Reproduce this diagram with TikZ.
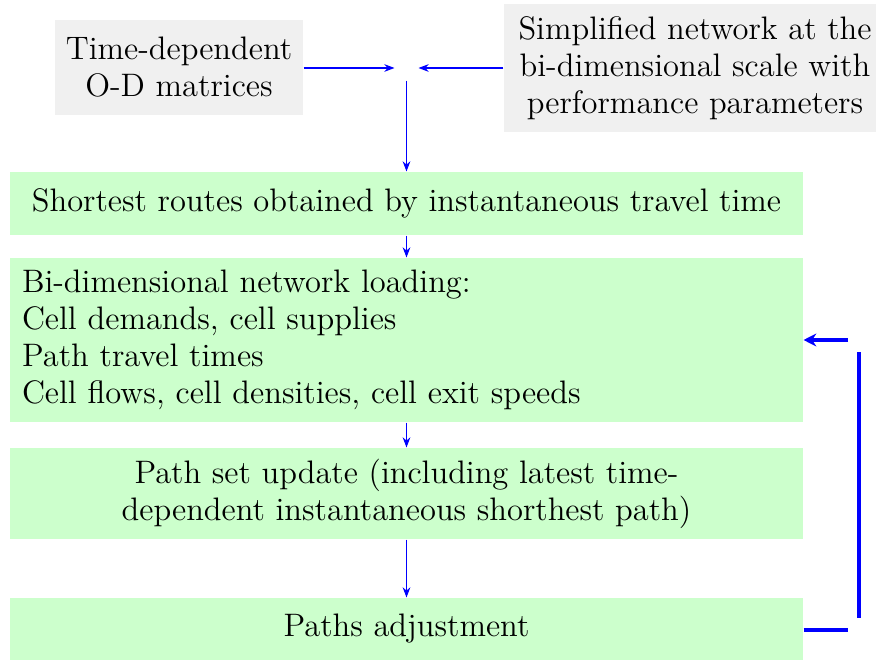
\documentclass[tikz,border=0pt]{standalone}
\usetikzlibrary{arrows.meta}
\definecolor{boxgray}{HTML}{F0F0F0}
\definecolor{boxgreen}{HTML}{CCFFCC}
\begin{document}
\begin{tikzpicture}[x=0.392pt,y=-0.392pt,
  every node/.style={font=\fontsize{12.75}{14.5}\selectfont},
  inbox/.style={fill=boxgray,inner sep=0pt,align=center},
  stepbox/.style={fill=boxgreen,inner sep=0pt,minimum width={793*0.392pt}},
  flow/.style={blue,-{Stealth[length=4pt,width=3pt]}},
  fb/.style={blue,line width=1.4pt}]
\useasboundingbox (0,0) rectangle (876,660);
\node[inbox,minimum width={248*0.392pt},minimum height={95*0.392pt}] (od) at (179,67.5) {Time-dependent\\O-D matrices};
\node[inbox,minimum width={382*0.392pt},minimum height={128*0.392pt}] (net) at (695,68) {Simplified network at the\\bi-dimensional scale with\\performance parameters};
\node[inner sep=0pt,minimum width={23*0.392pt},minimum height={24*0.392pt}] (j) at (406.5,68) {};
\node[stepbox,minimum height={63*0.392pt}] (sr) at (406.5,203.5) {Shortest routes obtained by instantaneous travel time};
\node[stepbox,minimum height={164*0.392pt},text width={769*0.392pt},align=left] (bi) at (406.5,340) {Bi-dimensional network loading:\\Cell demands, cell supplies\\Path travel times\\Cell flows, cell densities, cell exit speeds};
\node[stepbox,minimum height={91*0.392pt},align=center] (ps) at (406.5,493.5) {Path set update (including latest time-\\dependent instantaneous shorthest path)};
\node[stepbox,minimum height={62*0.392pt}] (pa) at (406.5,629) {Paths adjustment};
\draw[flow] (od.east |- j.west) -- (j.west);
\draw[flow] (net.west |- j.east) -- (j.east);
\draw[flow] (j.south) -- (sr.north);
\draw[flow] (sr.south) -- (bi.north);
\draw[flow] (bi.south) -- (ps.north);
\draw[flow] (ps.south) -- (pa.north);
\coordinate (f1) at (848,630);
\coordinate (f2) at (859,618);
\coordinate (f3) at (859,352);
\coordinate (f4) at (848,340);
\draw[fb] (pa.east |- f1) -- (f1);
\draw[fb] (f2) -- (f3);
\draw[fb,-{Stealth[length=5pt,width=5pt]}] (f4) -- (bi.east |- f4);
\end{tikzpicture}
\end{document}
